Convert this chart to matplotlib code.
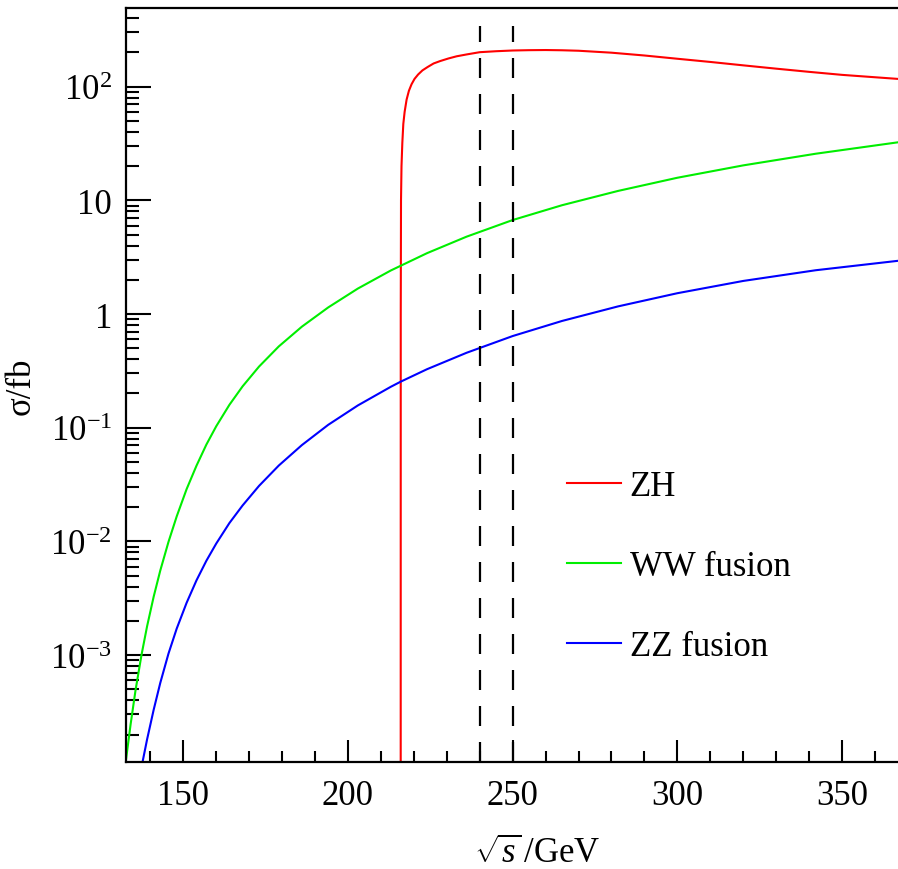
import matplotlib
matplotlib.use("Agg")
import matplotlib.pyplot as plt
from matplotlib.ticker import FixedLocator, FuncFormatter, NullFormatter
import numpy as np

plt.rcParams['font.family'] = ['Liberation Serif', 'DejaVu Serif']
plt.rcParams['mathtext.fontset'] = 'custom'
plt.rcParams['mathtext.rm'] = 'Liberation Serif'
plt.rcParams['mathtext.it'] = 'Liberation Serif:italic'
plt.rcParams['mathtext.bf'] = 'Liberation Serif:bold'

# ---- data (sqrt(s) in GeV, sigma in fb) ----
zh_x = [216.0, 216.02, 216.1, 216.25, 216.5, 216.8, 217.2, 217.8, 218.5, 219.3,
        220.2, 221.3, 222.6, 224.2, 226, 228, 230.5, 233, 236, 240, 245, 250,
        255, 260, 265, 270, 280, 290, 300, 310, 320, 330, 340, 350, 360, 367]
zh_sigma = [1e-6, 1.0, 10, 20, 32, 47, 60, 77, 92, 105,
            117, 128, 139, 149, 160, 168, 177, 185, 192, 201, 205, 208,
            209.4, 210, 209, 207, 199, 188, 176, 165, 154, 144, 135, 127, 121, 117]

ww_x = [132.6, 134, 135.5, 137.3, 139, 141, 143, 145.5, 148, 151, 154, 157, 160,
        164, 168, 173, 179, 186, 194, 203, 213, 224, 236, 250, 265, 282, 300,
        320, 342, 367]
ww_sigma = [1.20e-4, 2.46e-4, 4.92e-4, 1.0e-3, 1.79e-3, 3.26e-3, 5.53e-3, 9.9e-3,
            1.66e-2, 2.88e-2, 4.63e-2, 7.10e-2, 0.103, 0.159, 0.231, 0.345, 0.519,
            0.774, 1.143, 1.675, 2.415, 3.43, 4.79, 6.71, 9.06, 12.1, 15.8, 20.3,
            25.7, 32.4]

zz_x = [136.5, 137.3, 139, 141, 143, 145.5, 148, 151, 154, 157, 160, 164, 168,
        173, 179, 186, 194, 203, 213, 216, 224, 236, 250, 265, 282, 300, 320,
        342, 367]
zz_sigma = [7.66e-5, 1.03e-4, 1.81e-4, 3.30e-4, 5.68e-4, 1.03e-3, 1.71e-3,
            2.88e-3, 4.54e-3, 6.75e-3, 9.57e-3, 1.45e-2, 2.07e-2, 3.08e-2,
            4.65e-2, 7.03e-2, 0.106, 0.157, 0.229, 0.254, 0.327, 0.456, 0.640,
            0.869, 1.167, 1.524, 1.954, 2.427, 2.938]

energies = [240, 250]          # dashed reference lines
energy_line_top = 344

labels = ['ZH', 'WW fusion', 'ZZ fusion']
colors = ['#ff0000', '#00ee00', '#0000ff']

x_major = [150, 200, 250, 300, 350]
x_minor = [140, 160, 170, 180, 190, 210, 220, 230, 240, 260, 270, 280, 290,
           310, 320, 330, 340, 360]
y_major = [1e-3, 1e-2, 1e-1, 1, 10, 100]

x_range = (132.6, 367)
y_range = (1.146e-4, 492)

W, H = 898, 870
fig = plt.figure(figsize=(W / 100, H / 100), dpi=100)
ax = fig.add_axes([126 / W, 1 - 763 / H, 772 / W, 754 / H])

ax.plot(zh_x, zh_sigma, color=colors[0], lw=1.5, label=labels[0])
ax.plot(ww_x, ww_sigma, color=colors[1], lw=1.5, label=labels[1])
ax.plot(zz_x, zz_sigma, color=colors[2], lw=1.5, label=labels[2])

ax.vlines(energies, y_range[0], energy_line_top, colors='black', lw=1.6,
          linestyles=(0, (9, 7.2)))

ax.set_yscale('log')
ax.set_xlim(*x_range)
ax.set_ylim(*y_range)

ax.xaxis.set_major_locator(FixedLocator(x_major))
ax.xaxis.set_minor_locator(FixedLocator(x_minor))
y_minor = [m * d for d in [1e-4, 1e-3, 1e-2, 1e-1, 1, 10, 100]
           for m in range(2, 10) if y_range[0] <= m * d <= y_range[1]]
ax.yaxis.set_major_locator(FixedLocator(y_major))
ax.yaxis.set_minor_locator(FixedLocator(y_minor))
ax.yaxis.set_minor_formatter(NullFormatter())
ax.xaxis.set_minor_formatter(NullFormatter())


def yfmt(v, pos):
    e = int(round(np.log10(v)))
    if e == 0:
        return '1'
    if e == 1:
        return '10'
    return r'$10^{%d}$' % e


ax.yaxis.set_major_formatter(FuncFormatter(yfmt))
ax.xaxis.set_major_formatter(FuncFormatter(lambda v, p: '%d' % v))

ax.tick_params(axis='both', which='both', direction='in', top=False, right=False,
               labelsize=25, width=1.5, color='black')
ax.tick_params(axis='y', which='major', length=18, pad=10)
ax.tick_params(axis='y', which='minor', length=9.4)
ax.tick_params(axis='x', which='major', length=15.6, pad=12)
ax.tick_params(axis='x', which='minor', length=7.8)

for side in ['left', 'bottom', 'top']:
    ax.spines[side].set_linewidth(1.6)
ax.spines['right'].set_visible(False)

ax.set_xlabel(r'$\sqrt{s}\,$/GeV', fontsize=25)
ax.xaxis.set_label_coords((537 - 126) / 772, -0.0985)
ax.set_ylabel('σ/fb', fontsize=25)
ax.yaxis.set_label_coords((38 - 126) / 772, 0.5)

ax.legend(loc='upper left', bbox_to_anchor=(567 / W, 1 - 471 / H),
          bbox_transform=fig.transFigure, frameon=False, fontsize=25,
          handlelength=1.55, handletextpad=0.25, labelspacing=1.35,
          borderpad=0, borderaxespad=0)

fig.savefig('out.png', dpi=100)
